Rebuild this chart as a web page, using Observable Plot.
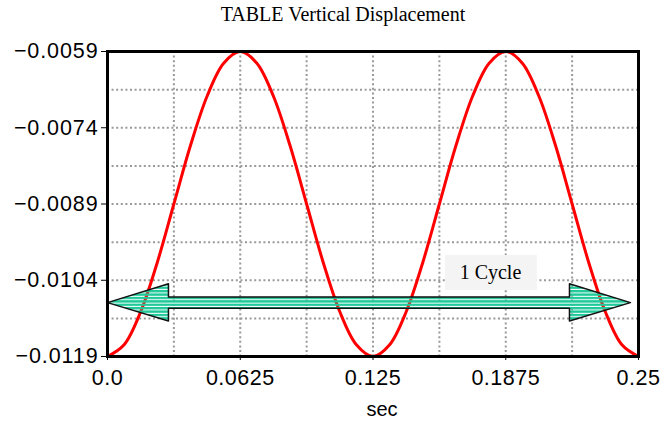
<!DOCTYPE html>
<html>
<head>
<meta charset="utf-8">
<script src="https://cdn.jsdelivr.net/npm/d3@7"></script>
<script src="https://cdn.jsdelivr.net/npm/@observablehq/plot@0.6"></script>
<style>
  body { margin: 0; background: #fff; }
</style>
</head>
<body>
<div id="chart"></div>
<script>
// ---- data ----
const titleText = "TABLE Vertical Displacement";
const xLabelText = "sec";
const times = [0, 0.0078125, 0.015625, 0.0234375, 0.03125, 0.0390625, 0.046875, 0.0546875,
  0.0625, 0.0703125, 0.078125, 0.0859375, 0.09375, 0.1015625, 0.109375, 0.1171875,
  0.125, 0.1328125, 0.140625, 0.1484375, 0.15625, 0.1640625, 0.171875, 0.1796875,
  0.1875, 0.1953125, 0.203125, 0.2109375, 0.21875, 0.2265625, 0.234375, 0.2421875, 0.25];
const displacement = [-0.01190, -0.01167, -0.01102, -0.01005, -0.00890, -0.00775, -0.00678, -0.00613,
  -0.00590, -0.00613, -0.00678, -0.00775, -0.00890, -0.01005, -0.01102, -0.01167,
  -0.01190, -0.01167, -0.01102, -0.01005, -0.00890, -0.00775, -0.00678, -0.00613,
  -0.00590, -0.00613, -0.00678, -0.00775, -0.00890, -0.01005, -0.01102, -0.01167, -0.01190];
const xTicks = [0, 0.0625, 0.125, 0.1875, 0.25];
const xTickLabels = ["0.0", "0.0625", "0.125", "0.1875", "0.25"];
const yTicks = [-0.0119, -0.0104, -0.0089, -0.0074, -0.0059];
const yTickLabels = ["\u22120.0119", "\u22120.0104", "\u22120.0089", "\u22120.0074", "\u22120.0059"];
const xGrid = [0.03125, 0.0625, 0.09375, 0.125, 0.15625, 0.1875, 0.21875];
const yGrid = [-0.01115, -0.0104, -0.00965, -0.0089, -0.00815, -0.0074, -0.00665];
// double-headed arrow outline (data units)
const arrowX = [0, 0.0287, 0.0287, 0.2175, 0.2175, 0.2462, 0.2175, 0.2175, 0.0287, 0.0287];
const arrowY = [-0.01084, -0.01047, -0.01073, -0.01073, -0.01047, -0.01084, -0.01120, -0.01095, -0.01095, -0.01120];
// "1 Cycle" annotation
const noteText = ["1 Cycle"];
const noteX = [0.1803];
const noteY = [-0.010257];
const noteBoxX1 = [0.1591], noteBoxX2 = [0.2024];
const noteBoxY1 = [-0.010602], noteBoxY2 = [-0.009913];

// ---- build ----
const curve = times.map((t, i) => ({t, v: displacement[i]}));
const arrow = arrowX.map((x, i) => ({x, y: arrowY[i]}));
const xLab = new Map(xTicks.map((d, i) => [d, xTickLabels[i]]));
const yLab = new Map(yTicks.map((d, i) => [d, yTickLabels[i]]));
const notes = noteText.map((s, i) => ({s, x: noteX[i], y: noteY[i], x1: noteBoxX1[i], x2: noteBoxX2[i], y1: noteBoxY1[i], y2: noteBoxY2[i]}));

const sans = "'Liberation Sans', Arial, Helvetica, sans-serif";
const serif = "'Liberation Serif', 'Times New Roman', serif";

const svg = Plot.plot({
  width: 662,
  height: 425,
  marginTop: 51,
  marginRight: 24,
  marginBottom: 69,
  marginLeft: 107,
  style: {fontFamily: sans, background: "#fff", color: "#000"},
  x: {domain: [0, 0.25], label: null},
  y: {domain: [-0.0119, -0.0059], label: null},
  marks: [
    Plot.gridX(xGrid, {stroke: "#999", strokeOpacity: 1, strokeWidth: 2, strokeDasharray: "2,2.6"}),
    Plot.gridY(yGrid, {stroke: "#999", strokeOpacity: 1, strokeWidth: 2, strokeDasharray: "2,2.6"}),
    Plot.line(curve, {x: "t", y: "v", stroke: "#ff0000", strokeWidth: 3, curve: "catmull-rom"}),
    Plot.line(arrow, {x: "x", y: "y", fill: "url(#stripes)", stroke: "#111", strokeWidth: 1.5, curve: "linear-closed"}),
    Plot.rect(notes, {x1: "x1", x2: "x2", y1: "y1", y2: "y2", fill: "#f4f4f4"}),
    Plot.text(notes, {x: "x", y: "y", text: "s", fontFamily: serif, fontSize: 20, fill: "#000"}),
    Plot.axisY(yTicks, {tickFormat: d => yLab.get(d), tickSize: 6, tickPadding: 3, fontSize: 21.5, fontFamily: sans, stroke: "#000"}),
    Plot.axisX(xTicks, {tickFormat: d => xLab.get(d), tickSize: 4, tickPadding: 9, fontSize: 21.5, fontFamily: sans, stroke: "#000"}),
    Plot.text([titleText], {text: d => d, frameAnchor: "top", dy: -31, dx: -30, lineAnchor: "bottom", fontFamily: serif, fontSize: 20, fill: "#000", ariaLabel: "title"}),
    Plot.text([xLabelText], {text: d => d, frameAnchor: "bottom", dy: 59, dx: 9, lineAnchor: "bottom", fontFamily: sans, fontSize: 20, fill: "#000"}),
    Plot.frame({stroke: "#000", strokeWidth: 3})
  ]
});

const root = d3.select(svg);
root.selectAll("g[aria-label='y-axis tick label'] text").attr("letter-spacing", "0.9");
root.selectAll("g[aria-label='x-axis tick label'] text").attr("letter-spacing", "0.5");
root.selectAll("g[aria-label='title'] text").attr("letter-spacing", "0.8");

// striped teal fill for the arrow
const defs = root.insert("defs", ":first-child");
const pat = defs.append("pattern")
  .attr("id", "stripes")
  .attr("patternUnits", "userSpaceOnUse")
  .attr("width", 8)
  .attr("height", 3.4)
  .attr("y", 0.5);
pat.append("rect").attr("x", 0).attr("y", 0).attr("width", 8).attr("height", 2.4).attr("fill", "#1fc99a");

document.getElementById("chart").appendChild(svg);
</script>
</body>
</html>
